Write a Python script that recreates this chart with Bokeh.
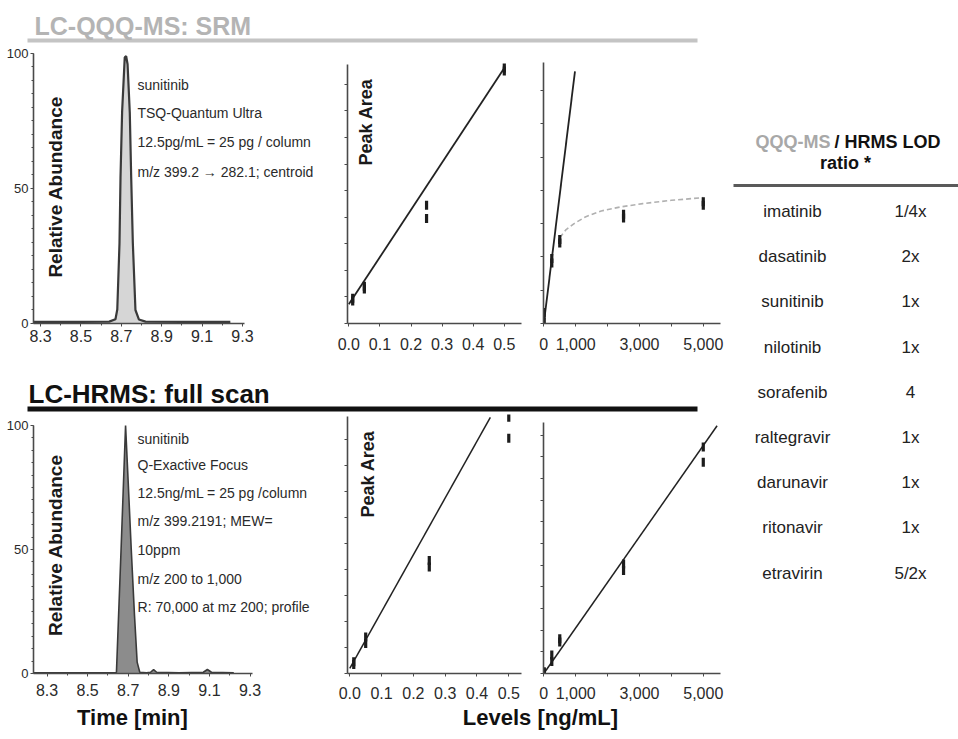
import numpy as np
from bokeh.plotting import figure
from bokeh.models import Range1d, FixedTicker, NumeralTickFormatter, Label, ColumnDataSource
from bokeh.layouts import row, column
from bokeh.embed import file_html
from bokeh.resources import INLINE
from bokeh.core.properties import value

FONT = "Liberation Sans"

# ---------------- data ----------------
# LC-QQQ-MS (SRM) chromatogram of sunitinib: time [min] vs relative abundance [%]
srm_time = [8.265, 8.50, 8.64, 8.671, 8.680, 8.691, 8.696, 8.704, 8.717, 8.724, 8.731,
            8.742, 8.749, 8.757, 8.770, 8.787, 8.82, 9.00, 9.24]
srm_abund = [0.6, 0.6, 0.7, 1.6, 5.2, 29.7, 54.0, 78.5, 98.6, 99.0, 96.0,
             78.0, 54.0, 30.0, 5.0, 1.5, 0.7, 0.6, 0.6]

# LC-HRMS (full scan) chromatogram of sunitinib
hrms_time = [8.233, 8.55, 8.642, 8.665, 8.687, 8.700, 8.715, 8.731, 8.744, 8.757,
             8.79, 8.81, 8.825, 8.84, 8.95, 9.07, 9.09, 9.11, 9.22]
hrms_abund = [0.3, 0.3, 0.4, 50.3, 100.0, 77.0, 50.0, 23.4, 4.6, 0.5,
              0.3, 0.5, 1.6, 0.5, 0.3, 0.5, 1.6, 0.5, 0.3]

time_ticks = [8.3, 8.5, 8.7, 8.9, 9.1, 9.3]
time_minor = [8.3, 8.4, 8.5, 8.6, 8.7, 8.8, 8.9, 9.0, 9.1, 9.2, 9.3]
abund_ticks = [0, 50, 100]
abund_minor = [0, 5, 10, 15, 20, 25, 30, 35, 40, 45, 50, 55, 60, 65, 70, 75, 80, 85, 90, 95, 100]

# calibration, low range (levels in ng/mL, peak area in arbitrary units)
low_ticks = [0.0, 0.1, 0.2, 0.3, 0.4, 0.5]
low_level = [0.0125, 0.0125, 0.05, 0.05, 0.25, 0.25, 0.5, 0.5]
srm_low_area = [0.85, 0.95, 1.3, 1.4, 3.95, 4.45, 9.5, 9.62]
srm_low_fit_x = [0.0, 0.5]
srm_low_fit_y = [0.72, 9.62]
hrms_low_area = [0.35, 0.45, 1.15, 1.4, 4.1, 4.35, 9.05, 9.85]
hrms_low_fit_x = [0.0, 0.442]
hrms_low_fit_y = [0.2, 9.85]

# calibration, high range
high_ticks = [0, 1000, 2000, 3000, 4000, 5000]
high_level = [12.5, 12.5, 250, 250, 500, 500, 2500, 2500, 5000, 5000]
srm_high_area = [0.05, 0.33, 1.82, 1.95, 2.42, 2.52, 3.17, 3.28, 3.55, 3.66]
srm_high_fit_x = [0, 977]
srm_high_fit_y = [0.0, 7.57]
srm_sat_x = [500, 700, 950, 1300, 1800, 2400, 3100, 4000, 5000]
srm_sat_y = [2.58, 2.82, 3.0, 3.2, 3.38, 3.5, 3.6, 3.7, 3.78]
hrms_high_area = [0.03, 0.08, 0.55, 0.85, 1.45, 1.6, 4.75, 5.05, 9.75, 10.45]
hrms_high_fit_x = [0, 5433]
hrms_high_fit_y = [0.0, 11.43]

# LOD ratio table
drugs = ["imatinib", "dasatinib", "sunitinib", "nilotinib", "sorafenib",
         "raltegravir", "darunavir", "ritonavir", "etravirin"]
ratios = ["1/4x", "2x", "1x", "1x", "4", "1x", "1x", "1x", "5/2x"]

AX = "#4a4a4a"
TXT = "#2a2a2a"


def base_fig(w, h, xr, yr, ml, mr, mt, mb, axes=True):
    kw = dict(width=w, height=h, x_range=xr, y_range=yr, output_backend="svg",
              toolbar_location=None, min_border_left=ml, min_border_right=mr,
              min_border_top=mt, min_border_bottom=mb)
    if not axes:
        kw.update(x_axis_type=None, y_axis_type=None)
    p = figure(**kw)
    p.outline_line_color = None
    p.background_fill_color = "white"
    p.border_fill_color = "white"
    p.grid.visible = False
    if axes:
        for ax in p.axis:
            ax.axis_line_color = AX
            ax.axis_line_width = 1.6
            ax.major_tick_line_color = AX
            ax.minor_tick_line_color = AX
            ax.major_tick_in = 0
            ax.major_tick_out = 3
            ax.minor_tick_in = 0
            ax.minor_tick_out = 2
            ax.major_label_text_font = FONT
            ax.major_label_text_color = TXT
            ax.major_label_text_font_size = "15px"
    return p


def chrom_fig(w, h, xr, xb, yr, ml, mr, mt, mb, x_standoff):
    p = base_fig(w, h, Range1d(*xr), Range1d(*yr), ml, mr, mt, mb)
    p.xaxis.ticker = FixedTicker(ticks=time_ticks, minor_ticks=time_minor)
    p.xaxis.formatter = NumeralTickFormatter(format="0.0")
    p.xaxis.major_label_standoff = x_standoff
    p.xaxis.major_label_text_font_size = "16px"
    p.xaxis.bounds = xb
    p.yaxis.ticker = FixedTicker(ticks=abund_ticks, minor_ticks=abund_minor)
    p.yaxis.major_label_text_font_size = "13px"
    p.yaxis.major_label_standoff = 2
    p.yaxis.bounds = (0, 100)
    return p


def cal_fig(w, h, xr, yr, ybound, ml, mr, mt, mb, xticks, fmt, overrides, x_standoff):
    p = base_fig(w, h, Range1d(*xr), Range1d(*yr), ml, mr, mt, mb)
    p.xaxis.ticker = FixedTicker(ticks=xticks, minor_ticks=[])
    p.xaxis.formatter = NumeralTickFormatter(format=fmt)
    p.xaxis.major_label_overrides = overrides
    p.xaxis.major_label_standoff = x_standoff
    p.xaxis.major_label_text_font_size = "16px"
    n = int(ybound)
    yt = list(range(0, n + 1))
    p.yaxis.ticker = FixedTicker(ticks=yt, minor_ticks=[])
    p.yaxis.major_label_overrides = {t: "" for t in yt}
    p.yaxis.major_label_standoff = 0
    p.yaxis.bounds = (0, ybound)
    return p


def add_label(p, x, y, text, size="14px", bold=False, angle=0.0, align="left", color=TXT):
    p.add_layout(Label(x=x, y=y, text=text, text_font=FONT, text_font_size=size,
                       text_font_style="bold" if bold else "normal", angle=angle,
                       text_align=align, text_baseline="middle", text_color=color))


def add_points(p, xs, ys):
    p.scatter(xs, ys, marker="dash", angle=np.pi / 2, size=9, line_width=3.2,
              line_color="#1c1c1c")


# ---------------- header 1 ----------------
h1 = base_fig(725, 44, Range1d(0, 725), Range1d(44, 0), 0, 0, 0, 0, axes=False)
h1.segment(x0=[27], y0=[40], x1=[697], y1=[40], line_color="#c4c4c4", line_width=4)
add_label(h1, 34, 25.5, "LC-QQQ-MS: SRM", size="25px", bold=True, color="#b4b4b4")

# ---------------- top row (frames share top 44 and bottom 323) ----------------
c1 = chrom_fig(335, 314, (8.265, 9.761), (8.265, 9.31), (0, 103.33), 33, 0, 0, 35, 3)
c1.varea(x=srm_time, y1=0, y2=srm_abund, fill_color="#d6d6d6")
c1.line(srm_time, srm_abund, line_color="#3a3a3a", line_width=2.2)
srm_notes = ["sunitinib", "TSQ-Quantum  Ultra", "12.5pg/mL = 25 pg / column",
             "m/z 399.2 \u2192 282.1;  centroid"]
for txt, yv in zip(srm_notes, [88.3, 78.0, 67.4, 56.0]):
    add_label(c1, 8.78, yv, txt, size="14px")
add_label(c1, 8.374, 51.6, "Relative  Abundance", size="19px", bold=True,
          angle=np.pi / 2, align="center", color="#1a1a1a")

cal1 = cal_fig(200, 314, (-0.0042, 0.5553), (0, 10.5), 9.74, 12, 14, 0, 35,
               low_ticks, "0.0", {}, 11)
cal1.line(srm_low_fit_x, srm_low_fit_y, line_color="#222222", line_width=1.8)
add_points(cal1, low_level, srm_low_area)
add_label(cal1, 0.0537, 7.58, "Peak Area", size="18px", bold=True, angle=np.pi / 2,
          align="center", color="#1a1a1a")

cal2 = cal_fig(190, 314, (-10, 5540), (0, 8.38), 7.84, 8, 5, 0, 35,
               high_ticks, "0,0", {2000: "", 4000: ""}, 11)
cal2.line(srm_high_fit_x, srm_high_fit_y, line_color="#222222", line_width=1.8)
cal2.line(srm_sat_x, srm_sat_y, line_color="#b0b0b0", line_width=1.6, line_dash="5 3")
add_points(cal2, high_level, srm_high_area)

# ---------------- header 2 ----------------
h2 = base_fig(725, 56, Range1d(0, 725), Range1d(56, 0), 0, 0, 0, 0, axes=False)
h2.segment(x0=[27], y0=[50.5], x1=[697], y1=[50.5], line_color="#111111", line_width=5)
add_label(h2, 28, 35, "LC-HRMS: full scan", size="26px", bold=True, color="#111111")

# ---------------- bottom row (frames share top 414 and bottom 673) ----------------
c4 = chrom_fig(335, 289, (8.2335, 9.721), (8.2335, 9.312), (0, 104.4), 33, 0, 0, 30, 7)
c4.varea(x=hrms_time, y1=0, y2=hrms_abund, fill_color="#8c8c8c")
c4.line(hrms_time, hrms_abund, line_color="#3a3a3a", line_width=1.6)
hrms_notes = ["sunitinib", "Q-Exactive Focus", "12.5ng/mL = 25 pg /column",
              "m/z 399.2191;  MEW=", "10ppm", "m/z 200 to 1,000",
              "R: 70,000 at mz 200; profile"]
for txt, yv in zip(hrms_notes, [94.6, 83.9, 72.9, 61.3, 49.6, 37.9, 26.7]):
    add_label(c4, 8.746, yv, txt, size="14px")
add_label(c4, 8.342, 52.8, "Relative  Abundance", size="19px", bold=True,
          angle=np.pi / 2, align="center", color="#1a1a1a")

cal3 = cal_fig(200, 289, (-0.0072, 0.540), (0, 9.96), 9.87, 12, 14, 0, 30,
               low_ticks, "0.0", {}, 10)
cal3.line(hrms_low_fit_x, hrms_low_fit_y, line_color="#222222", line_width=1.5)
add_points(cal3, low_level, hrms_low_area)
add_label(cal3, 0.0557, 7.67, "Peak Area", size="18px", bold=True, angle=np.pi / 2,
          align="center", color="#1a1a1a")

cal4 = cal_fig(190, 289, (-10, 5540), (0, 11.95), 11.6, 8, 5, 0, 30,
               high_ticks, "0,0", {2000: "", 4000: ""}, 10)
cal4.line(hrms_high_fit_x, hrms_high_fit_y, line_color="#222222", line_width=1.5)
add_points(cal4, high_level, hrms_high_area)

# ---------------- footer ----------------
ft = base_fig(725, 36, Range1d(0, 725), Range1d(36, 0), 0, 0, 0, 0, axes=False)
ft.segment(x0=[0], y0=[40], x1=[1], y1=[40], line_alpha=0)
add_label(ft, 135, 14, "Time  [min]", size="22px", bold=True, align="center", color="#111111")
add_label(ft, 543, 14, "Levels  [ng/mL]", size="22px", bold=True, align="center", color="#111111")

# ---------------- table ----------------
tb = base_fig(233, 739, Range1d(725, 958), Range1d(11.68, -4.668), 0, 0, 0, 0, axes=False)
idx = list(range(len(drugs)))
src = ColumnDataSource(dict(i=idx, drug=drugs, ratio=ratios))
tb.text(x=792, y="i", text="drug", source=src, text_font=value(FONT), text_font_size="17px",
        text_align="center", text_baseline="middle", text_color="#222222")
tb.text(x=910, y="i", text="ratio", source=src, text_font=value(FONT), text_font_size="17px",
        text_align="center", text_baseline="middle", text_color="#222222")
tb.segment(x0=[733], y0=[-0.575], x1=[958], y1=[-0.575], line_color="#5a5a5a", line_width=3)
tb.add_layout(Label(x=830, y=-1.53, text="QQQ-MS", text_font=FONT, text_font_size="18px",
                    text_font_style="bold", text_color="#a8a8a8", text_align="right",
                    text_baseline="middle"))
tb.add_layout(Label(x=834, y=-1.53, text="/ HRMS LOD", text_font=FONT, text_font_size="18px",
                    text_font_style="bold", text_color="#111111", text_align="left",
                    text_baseline="middle"))
tb.add_layout(Label(x=845, y=-1.08, text="ratio *", text_font=FONT, text_font_size="18px",
                    text_font_style="bold", text_color="#111111", text_align="center",
                    text_baseline="middle"))

left = column(h1, row(c1, cal1, cal2, spacing=0), h2, row(c4, cal3, cal4, spacing=0), ft,
              spacing=0)
layout = row(left, tb, spacing=0)

open("out.html", "w").write(file_html(layout, INLINE))
